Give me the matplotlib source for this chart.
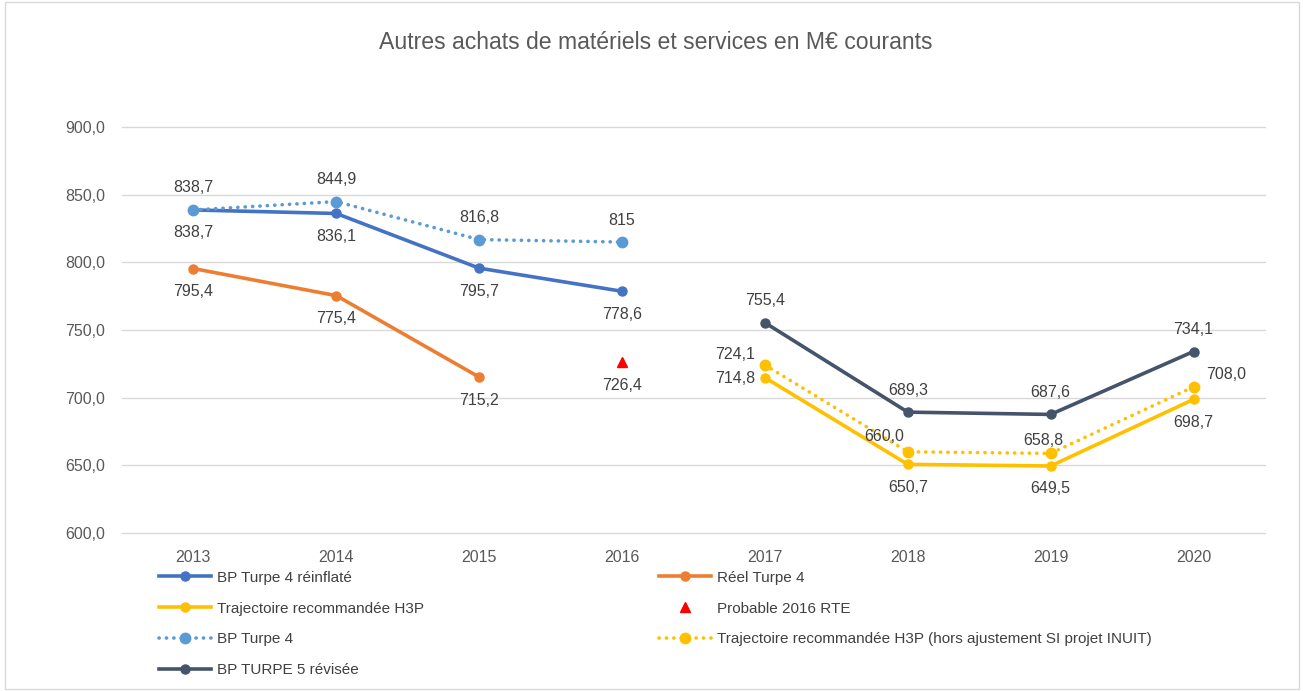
import numpy as np
import matplotlib.pyplot as plt
from matplotlib.patches import Rectangle

plt.rcParams['font.family'] = ['Liberation Sans', 'DejaVu Sans']

# =======================
# Data
# =======================
years = ["2013", "2014", "2015", "2016", "2017", "2018", "2019", "2020"]

bp4_reinf = [838.7, 836.1, 795.7, 778.6]
bp4_reinf_lbl = ["838,7", "836,1", "795,7", "778,6"]

reel4 = [795.4, 775.4, 715.2]
reel4_lbl = ["795,4", "775,4", "715,2"]

probable_2016 = [726.4]
probable_lbl = ["726,4"]

bp4 = [838.7, 844.9, 816.8, 815.0]
bp4_lbl = ["838,7", "844,9", "816,8", "815"]

h3p = [714.8, 650.7, 649.5, 698.7]
h3p_lbl = ["714,8", "650,7", "649,5", "698,7"]

h3p_hors = [724.1, 660.0, 658.8, 708.0]
h3p_hors_lbl = ["724,1", "660,0", "658,8", "708,0"]

turpe5 = [755.4, 689.3, 687.6, 734.1]
turpe5_lbl = ["755,4", "689,3", "687,6", "734,1"]

x_old = np.arange(0, 4)
x_new = np.arange(4, 8)

c_blue = "#4472C4"
c_orange = "#ED7D31"
c_gold = "#FFC000"
c_lblue = "#5B9BD5"
c_slate = "#44546A"
c_text = "#404040"

# =======================
# Plot
# =======================
fig = plt.figure(figsize=(13.03, 6.91), dpi=100)
fig.patches.append(Rectangle((0.004, 0.003), 0.993, 0.994, transform=fig.transFigure,
                             fill=False, edgecolor="#D9D9D9", linewidth=1))
ax = fig.add_axes([0.0936, 0.2287, 0.8772, 0.5875])

lw = 2.6
dots = (0, (0.05, 2.0))
l_bp4r, = ax.plot(x_old, bp4_reinf, color=c_blue, lw=lw, marker="o", ms=6.5, zorder=3)
l_reel, = ax.plot(x_old[:3], reel4, color=c_orange, lw=lw, marker="o", ms=6.5, zorder=3)
l_prob, = ax.plot(x_old[3:], probable_2016, color="red", lw=0, marker="^", ms=7, zorder=3)
l_bp4, = ax.plot(x_old, bp4, color=c_lblue, lw=2.6, ls=dots, dash_capstyle="round",
                 marker="o", ms=7.5, zorder=4)
l_h3p, = ax.plot(x_new, h3p, color=c_gold, lw=lw, marker="o", ms=6.5, zorder=3)
l_hors, = ax.plot(x_new, h3p_hors, color=c_gold, lw=2.6, ls=dots, dash_capstyle="round",
                  marker="o", ms=7.5, zorder=3)
l_t5, = ax.plot(x_new, turpe5, color=c_slate, lw=lw, marker="o", ms=6.5, zorder=3)


def annotate(xs, vals, labels, offs):
    for xi, v, lab, (dx, dy) in zip(xs, vals, labels, offs):
        ax.annotate(lab, (xi, v), xytext=(dx, dy), textcoords="offset pixels",
                    ha="center", va="center", fontsize=11.5, color=c_text)


above = (0, 22)
below = (0, -23)
annotate(x_old, bp4_reinf, bp4_reinf_lbl, [below] * 4)
annotate(x_old[:3], reel4, reel4_lbl, [below] * 3)
annotate(x_old[3:], probable_2016, probable_lbl, [(0, -24)])
annotate(x_old, bp4, bp4_lbl, [above] * 4)
annotate(x_new, h3p, h3p_lbl, [(-30, -1), below, below, below])
annotate(x_new, h3p_hors, h3p_hors_lbl, [(-30, 11), (-24, 15), (-7, 13), (33, 12)])
annotate(x_new, turpe5, turpe5_lbl, [above] * 4)

ax.set_xlim(-0.5, 7.5)
ax.set_ylim(600, 900)
ax.set_xticks(np.arange(len(years)))
ax.set_xticklabels(years)
ax.set_yticks(np.arange(600, 901, 50))
ax.set_yticklabels([f"{v:.1f}".replace(".", ",") for v in np.arange(600, 901, 50)])
ax.tick_params(length=0, labelsize=11.5, labelcolor="#595959")
ax.tick_params(axis="y", pad=12)
ax.tick_params(axis="x", pad=12)
ax.grid(axis="y", color="#D9D9D9", lw=1)
for g in ax.get_ygridlines():
    g.set_clip_on(False)
ax.set_axisbelow(True)
for s in ax.spines.values():
    s.set_visible(False)

fig.text(0.503, 0.938, "Autres achats de matériels et services en M€ courants",
         ha="center", va="center", fontsize=16.6, color="#595959")

# =======================
# Legend (two blocks)
# =======================
leg_kw = dict(frameon=False, fontsize=11, labelcolor=c_text, handlelength=3.4,
              handletextpad=0.4, labelspacing=1.1, borderaxespad=0, borderpad=0)
fig.legend([l_bp4r, l_h3p, l_bp4, l_t5],
           ["BP Turpe 4 réinflaté", "Trajectoire recommandée H3P", "BP Turpe 4", "BP TURPE 5 révisée"],
           loc="upper left", bbox_to_anchor=(0.122, 0.174), **leg_kw)
fig.legend([l_reel, l_prob, l_hors],
           ["Réel Turpe 4", "Probable 2016 RTE",
            "Trajectoire recommandée H3P (hors ajustement SI projet INUIT)"],
           loc="upper left", bbox_to_anchor=(0.506, 0.174), **leg_kw)

fig.savefig("out.png", dpi=100)
